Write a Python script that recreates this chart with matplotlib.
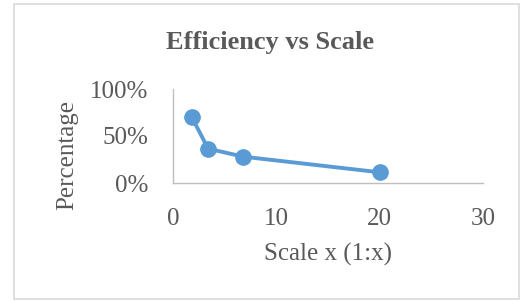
import matplotlib
matplotlib.use('Agg')
import matplotlib.pyplot as plt
from matplotlib.patches import Rectangle
from matplotlib.ticker import PercentFormatter

# data
scale = [1.8, 3.4, 6.8, 20.0]
efficiency = [70.5, 36.5, 28.0, 11.4]

plt.rcParams['font.family'] = ['Liberation Serif', 'DejaVu Serif']
grey = '#595959'

fig = plt.figure(figsize=(5.22, 3.02), dpi=100)
# outer chart border
fig.patches.append(Rectangle((14 / 522, 3 / 302), 505 / 522, 295 / 302, transform=fig.transFigure,
                             fill=False, edgecolor='#D9D9D9', linewidth=1.2))

ax = fig.add_axes([173 / 522, 119 / 302, 310 / 522, 94 / 302])
ax.plot(scale, efficiency, color='#5B9BD5', linewidth=2.8, marker='o', markersize=11,
        clip_on=False)

ax.set_xlim(0, 30)
ax.set_ylim(0, 100)
ax.set_xticks([0, 10, 20, 30])
ax.set_yticks([0, 50, 100])
ax.yaxis.set_major_formatter(PercentFormatter(decimals=0))

for s in ['top', 'right']:
    ax.spines[s].set_visible(False)
for s in ['left', 'bottom']:
    ax.spines[s].set_color('#BFBFBF')
    ax.spines[s].set_linewidth(1.0)

ax.tick_params(length=0, labelsize=18, colors=grey)
ax.tick_params(axis='x', pad=18)
ax.tick_params(axis='y', pad=18)

ax.set_xlabel('Scale x (1:x)', fontsize=18, color=grey, labelpad=9)
fig.text(67 / 522, 1 - 155 / 302, 'Percentage', rotation=90, ha='center', va='center',
         fontsize=18, color=grey)
fig.text(270 / 522, 1 - 42 / 302, 'Efficiency vs Scale', ha='center', va='center',
         fontsize=19, fontweight='bold', color=grey)

fig.savefig('out.png', dpi=100)
